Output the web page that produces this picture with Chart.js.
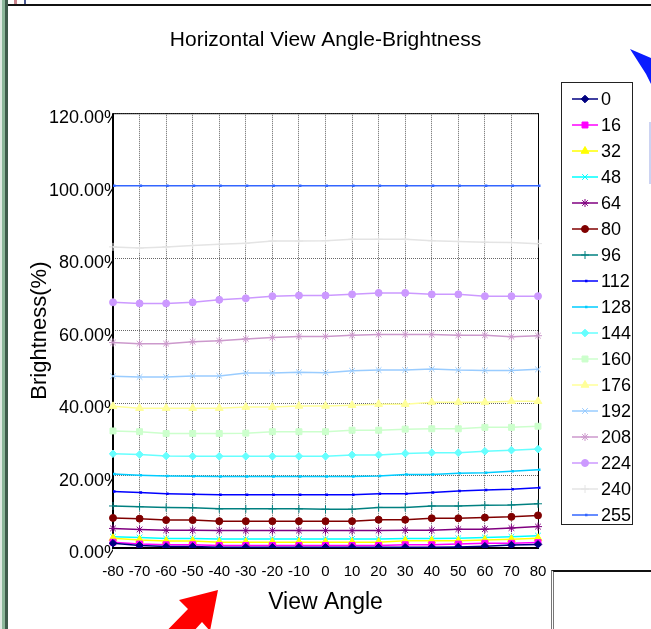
<!DOCTYPE html>
<html>
<head>
<meta charset="utf-8">
<title>Horizontal View Angle-Brightness</title>
<script src="https://cdn.jsdelivr.net/npm/chart.js@4.4.1/dist/chart.umd.min.js"></script>
<style>
  html, body { margin: 0; padding: 0; background: #fff; overflow: hidden; }
  #wrap { position: relative; width: 651px; height: 629px; }
  #chart { position: absolute; left: 0; top: 0; }
  .deco { position: absolute; }
</style>
</head>
<body>
<div id="wrap">
  <canvas id="chart" width="651" height="629"></canvas>
  <!-- window frame bits around the chart -->
  <div class="deco" style="left:0;top:0;width:2px;height:629px;background:#dfe9e2"></div>
  <div class="deco" style="left:2px;top:0;width:3px;height:629px;background:#8cb89a"></div>
  <div class="deco" style="left:5px;top:0;width:3px;height:629px;background:#3f5c4b"></div>
  <div class="deco" style="left:8px;top:4px;width:643px;height:2px;background:#111"></div>
  <div class="deco" style="left:14px;top:0;width:3px;height:4px;background:#c9848c"></div>
  <div class="deco" style="left:24px;top:0;width:2px;height:4px;background:#4a5890"></div>
  <div class="deco" style="left:649px;top:122px;width:2px;height:62px;background:#ccd3f2"></div>
  <div class="deco" style="left:551px;top:570px;width:100px;height:59px;background:#fff;border-left:3px double #777;border-top:2px solid #111"></div>
  <svg class="deco" style="left:0;top:0" width="651" height="629">
    <polygon points="218,590 179,600 188,609 150,648 166,662 202,622 210,631" fill="#ff0000"/>
    <polygon points="630,49 651,58 651,84 646,74" fill="#0a1cff"/>
  </svg>
</div>
<script>
const angles = [-80, -70, -60, -50, -40, -30, -20, -10, 0, 10, 20, 30, 40, 50, 60, 70, 80];
const grayLevels = ['0', '16', '32', '48', '64', '80', '96', '112', '128', '144', '160', '176', '192', '208', '224', '240', '255'];
const yTicks = [0, 20, 40, 60, 80, 100, 120];

// brightness in %, one array per gray level
const b0   = [1.3, 0.7, 0.4, 0.4, 0.2, 0.2, 0.2, 0.2, 0.2, 0.2, 0.2, 0.2, 0.2, 0.3, 0.5, 0.8, 1.0];
const b16  = [1.6, 1.1, 0.9, 0.9, 0.7, 0.7, 0.7, 0.7, 0.7, 0.7, 0.7, 0.9, 0.9, 1.1, 1.3, 1.3, 1.5];
const b32  = [2.7, 2.2, 1.9, 1.9, 1.6, 1.6, 1.6, 1.6, 1.6, 1.6, 1.6, 2.0, 2.0, 2.0, 2.2, 2.4, 2.7];
const b48  = [3.1, 2.9, 2.6, 2.6, 2.5, 2.5, 2.5, 2.5, 2.5, 2.5, 2.5, 2.6, 2.6, 2.7, 2.9, 3.1, 3.4];
const b64  = [5.4, 5.1, 4.9, 4.9, 4.8, 4.8, 4.8, 4.8, 4.8, 4.8, 4.8, 4.9, 4.9, 5.2, 5.2, 5.5, 5.9];
const b80  = [8.3, 8.1, 7.7, 7.7, 7.4, 7.4, 7.4, 7.4, 7.4, 7.4, 7.8, 7.8, 8.2, 8.2, 8.4, 8.6, 9.0];
const b96  = [11.6, 11.4, 11.2, 11.1, 10.8, 10.8, 10.8, 10.8, 10.7, 10.7, 11.2, 11.2, 11.6, 11.6, 11.8, 11.9, 12.2];
const b112 = [15.6, 15.3, 15.0, 14.8, 14.7, 14.7, 14.7, 14.7, 14.7, 14.7, 15.0, 15.0, 15.3, 15.7, 16.0, 16.2, 16.6];
const b128 = [20.4, 20.1, 19.9, 19.8, 19.7, 19.7, 19.7, 19.7, 19.7, 19.7, 19.9, 20.3, 20.3, 20.6, 20.8, 21.2, 21.6];
const b144 = [26.0, 25.8, 25.4, 25.3, 25.3, 25.3, 25.3, 25.3, 25.3, 25.7, 25.7, 26.1, 26.3, 26.3, 26.7, 27.0, 27.3];
const b160 = [32.3, 32.1, 31.6, 31.6, 31.6, 31.7, 32.1, 32.1, 32.1, 32.5, 32.5, 32.8, 32.9, 32.9, 33.3, 33.3, 33.6];
const b176 = [39.1, 38.6, 38.6, 38.6, 38.6, 38.9, 38.9, 39.2, 39.2, 39.4, 39.7, 39.7, 40.2, 40.2, 40.2, 40.5, 40.5];
const b192 = [47.4, 47.2, 47.2, 47.5, 47.5, 48.3, 48.3, 48.5, 48.4, 48.9, 49.1, 49.1, 49.4, 49.1, 49.0, 49.0, 49.3];
const b208 = [56.7, 56.4, 56.4, 56.9, 57.2, 57.7, 58.1, 58.4, 58.4, 58.7, 58.9, 58.9, 58.9, 58.7, 58.7, 58.3, 58.6];
const b224 = [67.8, 67.5, 67.5, 67.8, 68.5, 68.9, 69.5, 69.7, 69.7, 70.0, 70.4, 70.4, 70.0, 70.0, 69.5, 69.5, 69.5];
const b240 = [83.1, 82.8, 83.1, 83.5, 83.8, 84.1, 84.7, 84.7, 84.8, 85.2, 85.2, 85.2, 84.8, 84.6, 84.4, 84.3, 84.0];
const b255 = [100, 100, 100, 100, 100, 100, 100, 100, 100, 100, 100, 100, 100, 100, 100, 100, 100];

const allSeries = [b0, b16, b32, b48, b64, b80, b96, b112, b128, b144, b160, b176, b192, b208, b224, b240, b255];

// excel-ish series look
const colors = ['#000080', '#ff00ff', '#ffff00', '#00ffff', '#800080', '#800000', '#008080', '#0000ff',
  '#00ccff', '#66ffff', '#ccffcc', '#ffff99', '#99ccff', '#cc99cc', '#cc99ff', '#e4e4e4', '#3366ff'];
const markers = ['rectRot', 'rect', 'triangle', 'crossRot', 'star', 'circle', 'cross', 'dash',
  'dash', 'rectRot', 'rect', 'triangle', 'crossRot', 'star', 'circle', 'cross', 'dash'];
const markerSize = m => ({ rectRot: 3.8, rect: 4.2, triangle: 4.5, crossRot: 4, star: 4, circle: 3.5, cross: 4, dash: 2.5 })[m];
const markerWidth = m => (m === 'dash' ? 2.5 : 1);

Chart.defaults.font.family = "'Liberation Sans', Arial, sans-serif";
Chart.defaults.color = '#000';

const datasets = allSeries.map((vals, i) => ({
  label: grayLevels[i],
  data: vals,
  borderColor: colors[i],
  backgroundColor: colors[i],
  borderWidth: 1.5,
  tension: 0,
  pointStyle: markers[i],
  pointRadius: markerSize(markers[i]),
  pointBorderWidth: markerWidth(markers[i]),
  pointBackgroundColor: colors[i],
  pointBorderColor: colors[i]
}));

// solid frame round the plot area
const plotFrame = {
  id: 'plotFrame',
  beforeDatasetsDraw(chart) {
    const { ctx, chartArea: a } = chart;
    ctx.save();
    ctx.strokeStyle = '#000';
    ctx.lineWidth = 1;
    ctx.strokeRect(a.left + 0.5, a.top + 0.5, a.right - a.left, a.bottom - a.top);
    ctx.lineWidth = 2;
    ctx.beginPath();
    ctx.moveTo(a.left, a.top);
    ctx.lineTo(a.left, a.bottom);
    ctx.lineTo(a.right, a.bottom);
    ctx.stroke();
    ctx.restore();
  }
};

// boxed legend with line + marker samples
const boxLegend = {
  id: 'boxLegend',
  afterDraw(chart) {
    const ctx = chart.ctx;
    const H = Chart.helpers;
    ctx.save();
    ctx.fillStyle = '#fff';
    ctx.fillRect(561, 82, 71, 442);
    ctx.strokeStyle = '#222';
    ctx.lineWidth = 1;
    ctx.strokeRect(561.5, 82.5, 71, 442);
    chart.data.datasets.forEach((ds, i) => {
      const y = 99 + i * 26;
      ctx.strokeStyle = ds.borderColor;
      ctx.lineWidth = 1.5;
      ctx.beginPath();
      ctx.moveTo(572, y);
      ctx.lineTo(598, y);
      ctx.stroke();
      ctx.fillStyle = ds.borderColor;
      ctx.lineWidth = ds.pointBorderWidth;
      if (H && H.drawPoint) {
        H.drawPoint(ctx, { pointStyle: ds.pointStyle, rotation: 0, radius: ds.pointRadius, borderWidth: ds.pointBorderWidth }, 585, y);
      }
      ctx.fillStyle = '#000';
      ctx.font = "18px 'Liberation Sans', Arial, sans-serif";
      ctx.textBaseline = 'middle';
      ctx.textAlign = 'left';
      ctx.fillText(ds.label, 601, y + 1);
    });
    ctx.restore();
  }
};

new Chart(document.getElementById('chart'), {
  type: 'line',
  data: { labels: angles.map(String), datasets },
  options: {
    responsive: false,
    animation: false,
    devicePixelRatio: 1,
    layout: { padding: 0 },
    plugins: {
      legend: { display: false },
      tooltip: { enabled: false },
      title: {
        display: true,
        text: 'Horizontal View Angle-Brightness',
        color: '#000',
        font: { size: 21, weight: 'normal' },
        padding: { top: 28, bottom: 60 }
      }
    },
    scales: {
      x: {
        type: 'category',
        offset: false,
        grid: { color: '#666', lineWidth: 1, drawTicks: false },
        border: { display: false, dash: [1, 1] },
        ticks: { font: { size: 15 }, padding: 15, maxRotation: 0, autoSkip: false, color: '#000' },
        title: { display: true, text: 'View Angle', font: { size: 23 }, padding: { top: 0, bottom: 13 }, color: '#000' },
        afterFit(s) { s.height = 81; }
      },
      y: {
        min: yTicks[0],
        max: yTicks[yTicks.length - 1],
        afterBuildTicks(s) { s.ticks = yTicks.map(v => ({ value: v })); },
        grid: { color: '#666', lineWidth: 1, drawTicks: false },
        border: { display: false, dash: [1, 1] },
        ticks: { font: { size: 18 }, padding: -7, labelOffset: 5, color: '#000', callback: v => v.toFixed(2) + '%' },
        title: { display: true, text: 'Brightness(%)', font: { size: 22 }, padding: { top: 27, bottom: 0 }, color: '#000' },
        afterFit(s) { s.width = 113; }
      },
      // empty right-hand axis: only reserves the room the boxed legend sits in
      side: {
        position: 'right',
        min: 0,
        max: 1,
        grid: { display: false, drawTicks: false },
        border: { display: false },
        ticks: { display: false },
        afterFit(s) { s.width = 113; }
      }
    }
  },
  plugins: [plotFrame, boxLegend]
});
</script>
</body>
</html>
